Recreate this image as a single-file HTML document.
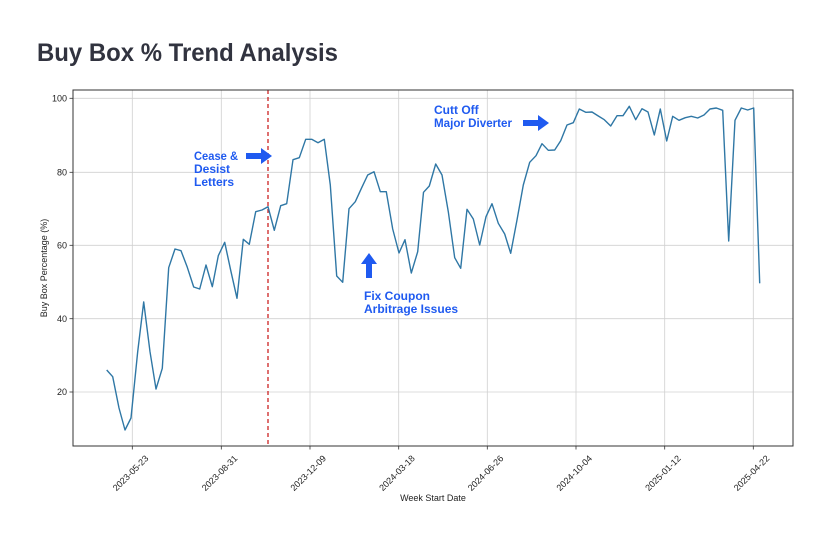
<!DOCTYPE html>
<html><head><meta charset="utf-8"><style>
html,body{margin:0;padding:0;background:#fff;}
svg{display:block;}
</style></head><body>
<svg width="819" height="540" xmlns="http://www.w3.org/2000/svg" font-family="Liberation Sans, DejaVu Sans, sans-serif">
<rect width="819" height="540" fill="#fff"/>
<text x="37" y="61" font-size="25" font-weight="bold" fill="#31333f" textLength="301" lengthAdjust="spacingAndGlyphs">Buy Box % Trend Analysis</text>
<g stroke="#d0d0d0" stroke-width="0.8">
<line x1="73" x2="793" y1="98.3" y2="98.3"/><line x1="73" x2="793" y1="172.3" y2="172.3"/><line x1="73" x2="793" y1="245.3" y2="245.3"/><line x1="73" x2="793" y1="318.7" y2="318.7"/><line x1="73" x2="793" y1="392" y2="392"/>
<line x1="132.3" x2="132.3" y1="90" y2="446"/><line x1="221.3" x2="221.3" y1="90" y2="446"/><line x1="310" x2="310" y1="90" y2="446"/><line x1="398.7" x2="398.7" y1="90" y2="446"/><line x1="487.3" x2="487.3" y1="90" y2="446"/><line x1="576" x2="576" y1="90" y2="446"/><line x1="664.7" x2="664.7" y1="90" y2="446"/><line x1="753.3" x2="753.3" y1="90" y2="446"/>
</g>
<line x1="268" x2="268" y1="90" y2="446" stroke="#cc2222" stroke-width="1.3" stroke-dasharray="4,3"/>
<polyline fill="none" stroke="#2f77a5" stroke-width="1.4" stroke-linejoin="round" points="106.7,370 112.7,376.7 119,408 125,430 131,418 137.7,351.7 143.7,302 150,351.7 156,389 162.3,368.3 168.7,267.7 175,249 181,250.7 187.3,267.3 193.7,287 199.7,289 206,265 212.3,286.7 218.3,255.7 224.7,242.3 230.7,270.3 237,298.3 243.3,239.3 249.3,244.3 255.7,211.7 262,210 268,206.7 274.3,230.3 280.7,205.7 286.7,203.7 293,159.7 299.3,157.7 305.7,139.3 311.7,139.3 318,142.7 324.3,139.3 330.3,185 336.7,276 342.7,282.3 349,208.7 355.3,201.7 361.7,187.7 367.7,175 374,171.7 380.3,191.7 386.3,191.7 392.7,229 399,253 405,239.7 411.3,273 417.7,251.7 423.5,192.3 429.3,186 435.7,164 442,175 448.3,211.7 454.7,257.7 460.7,268.3 467,209.3 473.3,219 479.7,245 486,216.7 492,203.7 498.3,223.3 504.7,234 510.7,253.3 517,220 523.3,185 529.7,162.3 536,155.7 542,143.7 548.3,150.3 554.7,150 560.7,140.7 567,125 573.3,122.7 579.3,109 585.7,112.3 592,112 598.3,116 604.3,119.7 610.7,126 617,115.7 623,115.7 629.3,106.3 635.7,119.7 642,108.7 648,112 654.3,135 660.3,109 666.7,141 672.7,116.3 679,120.3 685.3,117.7 691.3,116.3 697.7,118 704,115 710,109 716.3,108 722.7,110.3 728.7,241 735,120.3 741.3,108 747.7,110 753.7,108 759.7,283.3"/>
<rect x="73" y="90" width="720" height="356" fill="none" stroke="#333" stroke-width="1"/>
<g stroke="#333" stroke-width="0.8">
<line x1="69.5" x2="73" y1="98.3" y2="98.3"/><line x1="69.5" x2="73" y1="172.3" y2="172.3"/><line x1="69.5" x2="73" y1="245.3" y2="245.3"/><line x1="69.5" x2="73" y1="318.7" y2="318.7"/><line x1="69.5" x2="73" y1="392" y2="392"/>
<line x1="132.3" x2="132.3" y1="446" y2="449.5"/><line x1="221.3" x2="221.3" y1="446" y2="449.5"/><line x1="310" x2="310" y1="446" y2="449.5"/><line x1="398.7" x2="398.7" y1="446" y2="449.5"/><line x1="487.3" x2="487.3" y1="446" y2="449.5"/><line x1="576" x2="576" y1="446" y2="449.5"/><line x1="664.7" x2="664.7" y1="446" y2="449.5"/><line x1="753.3" x2="753.3" y1="446" y2="449.5"/>
</g>
<g font-size="9" fill="#222" text-anchor="end">
<text x="67" y="101.5">100</text><text x="67" y="175.5">80</text><text x="67" y="248.5">60</text><text x="67" y="322">40</text><text x="67" y="395">20</text>
</g>
<g font-size="9" fill="#222" text-anchor="end">
<text transform="translate(149,459) rotate(-45)">2023-05-23</text>
<text transform="translate(238,459) rotate(-45)">2023-08-31</text>
<text transform="translate(326.7,459) rotate(-45)">2023-12-09</text>
<text transform="translate(415.4,459) rotate(-45)">2024-03-18</text>
<text transform="translate(504,459) rotate(-45)">2024-06-26</text>
<text transform="translate(592.7,459) rotate(-45)">2024-10-04</text>
<text transform="translate(681.4,459) rotate(-45)">2025-01-12</text>
<text transform="translate(770,459) rotate(-45)">2025-04-22</text>
</g>
<text x="433" y="501" font-size="9" fill="#222" text-anchor="middle">Week Start Date</text>
<text transform="translate(47,268) rotate(-90)" font-size="9" fill="#222" text-anchor="middle">Buy Box Percentage (%)</text>
<g font-size="12" font-weight="bold" fill="#1f5af0">
<text x="194" y="160" textLength="44" lengthAdjust="spacingAndGlyphs">Cease &amp;</text><text x="194" y="173">Desist</text><text x="194" y="186">Letters</text>
<text x="364" y="300">Fix Coupon</text><text x="364" y="313">Arbitrage Issues</text>
<text x="434" y="114">Cutt Off</text><text x="434" y="127" textLength="78" lengthAdjust="spacingAndGlyphs">Major Diverter</text>
</g>
<g fill="#1f5af0">
<polygon points="246,153 261,153 261,148 272,156 261,164 261,159 246,159"/>
<polygon points="523,120 538,120 538,115 549,123 538,131 538,126 523,126"/>
<polygon points="366,278 366,264 361,264 369,253 377,264 372,264 372,278"/>
</g>
</svg>
</body></html>
